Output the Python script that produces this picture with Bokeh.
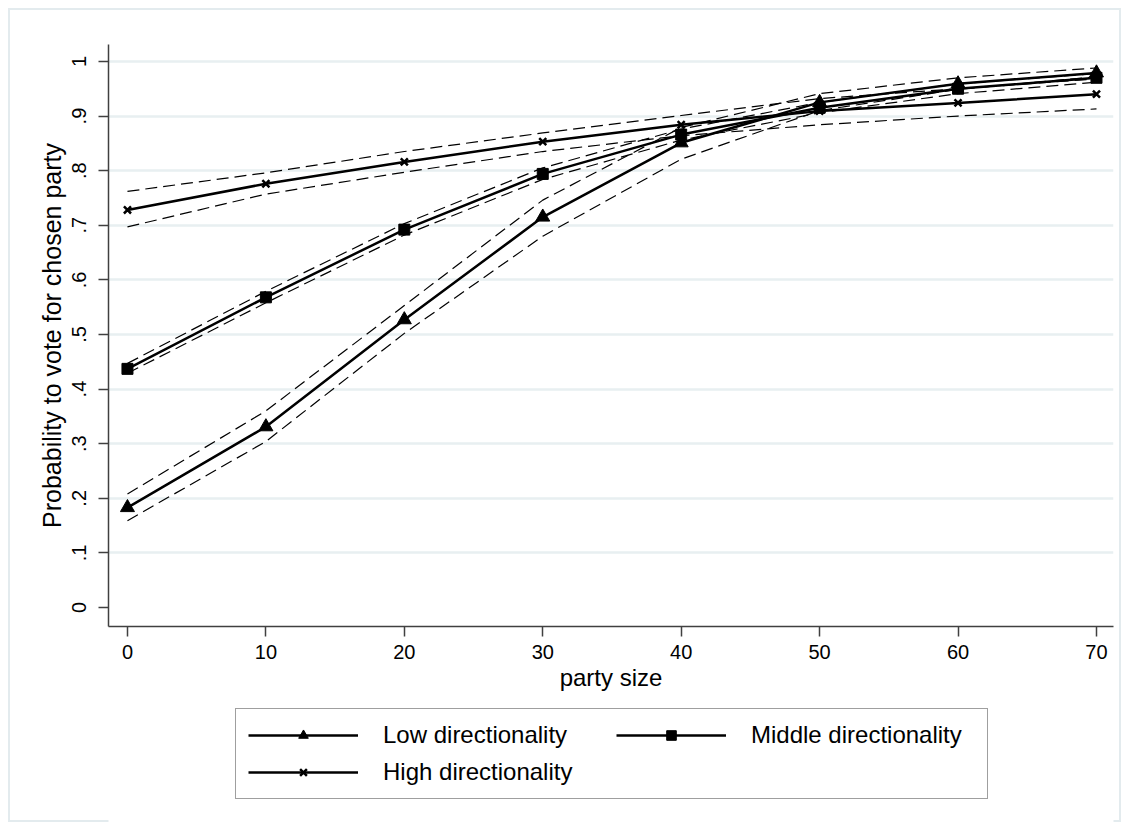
from bokeh.plotting import figure
from bokeh.layouts import column
from bokeh.models import FixedTicker, Legend, LegendItem, Range1d
from bokeh.embed import file_html
from bokeh.resources import INLINE

# ---- data ----
party_size = [0, 10, 20, 30, 40, 50, 60, 70]

low = [0.183, 0.331, 0.527, 0.715, 0.851, 0.925, 0.959, 0.979]
low_lo = [0.159, 0.304, 0.502, 0.680, 0.821, 0.910, 0.949, 0.972]
low_hi = [0.208, 0.360, 0.553, 0.746, 0.879, 0.941, 0.970, 0.988]

mid = [0.437, 0.568, 0.692, 0.794, 0.866, 0.915, 0.950, 0.970]
mid_lo = [0.429, 0.558, 0.682, 0.784, 0.856, 0.906, 0.941, 0.962]
mid_hi = [0.447, 0.579, 0.703, 0.805, 0.876, 0.925, 0.959, 0.978]

high = [0.728, 0.776, 0.816, 0.853, 0.884, 0.909, 0.924, 0.940]
high_lo = [0.697, 0.757, 0.797, 0.835, 0.864, 0.884, 0.900, 0.913]
high_hi = [0.762, 0.796, 0.835, 0.869, 0.901, 0.932, 0.950, 0.968]

x_ticks = [0, 10, 20, 30, 40, 50, 60, 70]
y_ticks = [0, 0.1, 0.2, 0.3, 0.4, 0.5, 0.6, 0.7, 0.8, 0.9, 1]
y_tick_labels = ["0", ".1", ".2", ".3", ".4", ".5", ".6", ".7", ".8", ".9", "1"]
grid_ticks = [0.1, 0.2, 0.3, 0.4, 0.5, 0.6, 0.7, 0.8, 0.9, 1]

series_names = ["Low directionality", "Middle directionality", "High directionality"]

FONT = "Liberation Sans"

# ---------------- main plot ----------------
p = figure(width=1129, height=700, output_backend="svg", toolbar_location=None,
           x_range=Range1d(-1.37, 71.23), y_range=Range1d(-0.0348, 1.031),
           min_border_left=108, min_border_top=44, min_border_right=16,
           min_border_bottom=74)
p.background_fill_color = "white"
p.border_fill_color = None
p.outline_line_color = None

for ax in (p.xaxis[0], p.yaxis[0]):
    ax.axis_line_color = "#404040"
    ax.axis_line_width = 1.5
    ax.major_tick_line_color = "#404040"
    ax.major_tick_line_width = 1.5
    ax.major_tick_out = 10
    ax.major_tick_in = 0
    ax.minor_tick_line_color = None
    ax.major_label_text_font = FONT
    ax.major_label_text_font_size = "20px"
    ax.major_label_text_color = "#000000"
    ax.axis_label_text_font = FONT
    ax.axis_label_text_font_style = "normal"
    ax.axis_label_text_color = "#000000"

p.xaxis.ticker = FixedTicker(ticks=x_ticks)
p.xaxis.axis_label = "party size"
p.xaxis.axis_label_text_font_size = "24px"
p.xaxis.major_label_standoff = 8
p.xaxis.axis_label_standoff = 2

p.yaxis.ticker = FixedTicker(ticks=y_ticks)
p.yaxis.major_label_overrides = {t: l for t, l in zip(y_ticks, y_tick_labels)}
p.yaxis.major_label_orientation = "vertical"
p.yaxis.axis_label = "Probability to vote for chosen party"
p.yaxis.axis_label_text_font_size = "25px"
p.yaxis.major_label_standoff = 12
p.yaxis.axis_label_standoff = 4

p.xgrid.grid_line_color = None
p.ygrid.ticker = FixedTicker(ticks=grid_ticks)
p.ygrid.grid_line_color = "#e8eff1"
p.ygrid.grid_line_width = 2.5

# confidence bands (dashed)
for lo, hi in ((low_lo, low_hi), (mid_lo, mid_hi), (high_lo, high_hi)):
    p.line(party_size, lo, line_color="black", line_width=1.2, line_dash="12 6")
    p.line(party_size, hi, line_color="black", line_width=1.2, line_dash="12 6")

lw = 2.5
marker_styles = [
    dict(marker="triangle", size=14, fill_color="black", line_color="black"),
    dict(marker="square", size=11, fill_color="black", line_color="black"),
    dict(marker="x", size=10, line_color="black", line_width=2.5),
]
series = (low, mid, high)
for ys, ms in zip(series, marker_styles):
    p.line(party_size, ys, line_color="black", line_width=lw)
    p.scatter(party_size, ys, **ms)

# ---------------- legend strip ----------------
# the same series are drawn here outside the visible range, only so that the
# legend can show their line + marker symbols
leg = figure(width=1129, height=130, output_backend="svg", toolbar_location=None,
             x_range=Range1d(1000, 1001), y_range=Range1d(1000, 1001),
             x_axis_type=None, y_axis_type=None, min_border=0)
leg.grid.visible = False
leg.outline_line_color = None
leg.background_fill_color = "white"
leg.border_fill_color = None

items = []
for name, ys, ms in zip(series_names, series, marker_styles):
    rl = leg.line(party_size, ys, line_color="black", line_width=lw)
    rm = leg.scatter(party_size, ys, **ms)
    items.append(LegendItem(label=name, renderers=[rl, rm]))

legend = Legend(items=items, orientation="horizontal", ncols=2)
legend.location = (127, 31)
legend.label_text_font = FONT
legend.label_text_font_size = "24px"
legend.label_text_color = "#000000"
legend.glyph_width = 110
legend.glyph_height = 24
legend.label_height = 24
legend.label_width = 224
legend.label_standoff = 25
legend.spacing = 9
legend.padding = 12
legend.margin = 0
legend.border_line_color = "#404040"
legend.border_line_width = 1.5
legend.background_fill_color = "white"
leg.add_layout(legend, "center")

layout = column(p, leg, spacing=0,
                styles={"outline": "2px solid #e3ebee", "outline-offset": "-10px",
                        "background-color": "white"})

open("out.html", "w").write(file_html(layout, INLINE))
